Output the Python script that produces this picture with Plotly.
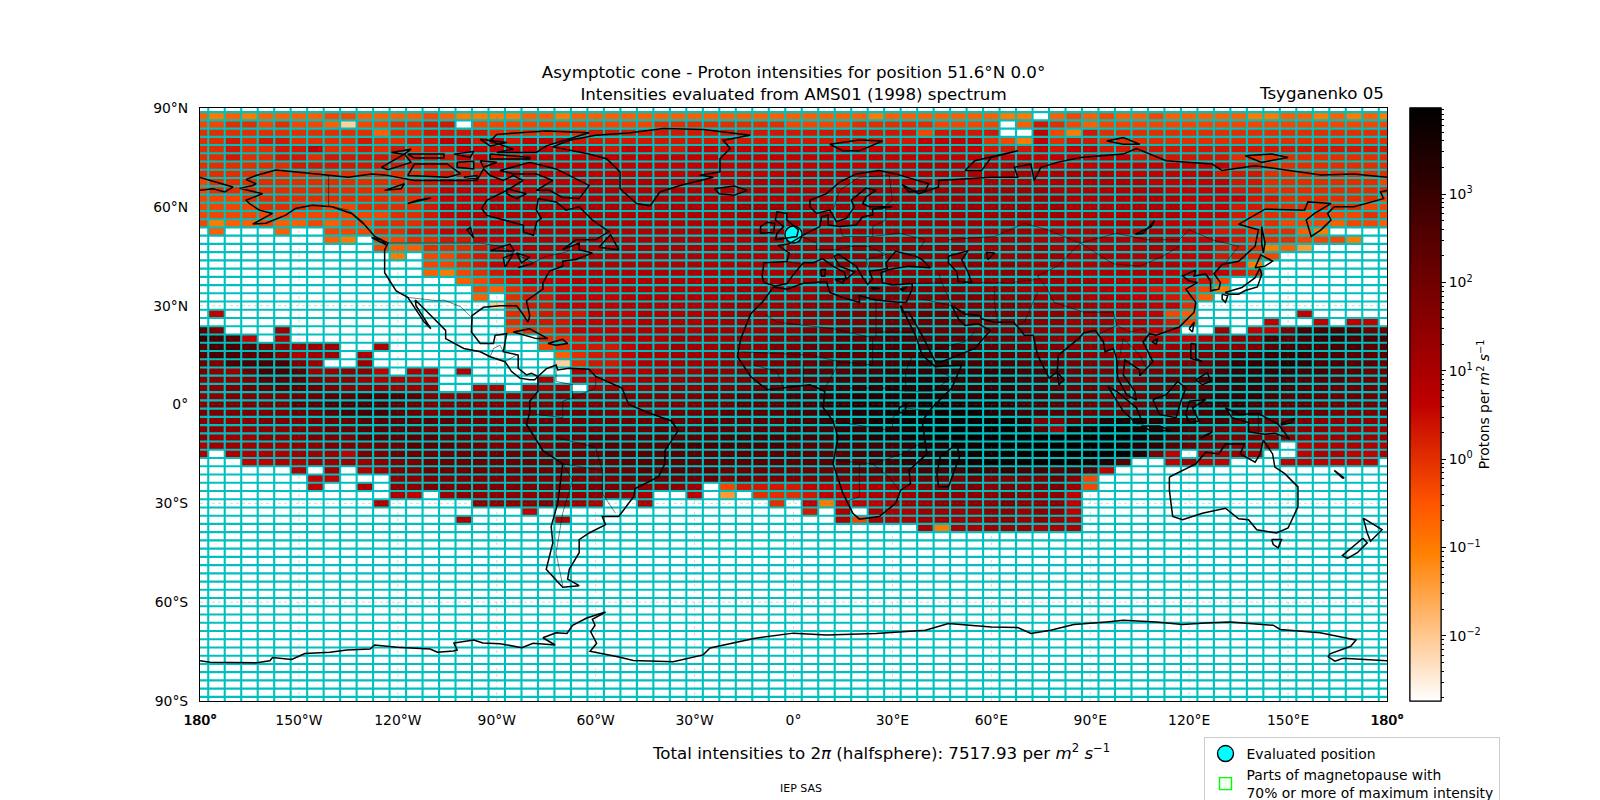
import numpy as np
import plotly.graph_objects as go

# grid of the asymptotic cone map, 5 deg x 2.5 deg cells
lons = list(range(-180, 185, 5))
lats = [90 - 2.5 * k for k in range(73)]

# one letter per cell, "." = no intensity
levels = {"a": -2.1, "z": -1.4, "b": -1.0, "c": -0.6, "d": -0.3, "e": 0.0, "f": 0.3, "g": 0.6,
          "h": 0.9, "i": 1.2, "j": 1.5, "k": 1.8, "l": 2.1, "m": 2.4, "n": 2.7, "o": 3.0,
          "p": 3.3, "q": 3.6, "r": 3.9}

cell_rows = [
    ".... .... .... .... .... ....  ............ ............  ........ ........ .........",
    "cbcb cccc ddcc ccdc bbbb ccbc  cccccccccccc cccccbcccccc  cbb.cdcd ccdccccc bbccbcbcb",
    "ddee dedd cadd eeff .ddd dddd  ddddeeeeeeee ddddeeeeeddd  d.cfedcd dddddddd ddddddddd",
    "eeee eeee eeec eeff ffee eeee  ffffffffffff ffffffffdfff  f..gdbfe eeeeeeee eeeeeeeee",
    "eefe ffee eefe effg gfgf gggf  ffffffffffff ffffffffgggg  edbgeffe eeeeeeee eeeeeeeee",
    "eefe effg eefe feff gggg gggg  gfggffgggggg gggggggggggg  fffgfggf ffffffff fffffffff",
    "eefe effe ffff ffff ggff gggg  gggggggggggg gggggggggggg  gggggggg gffffffe eeeeeeeee",
    "eeee eeff ffff ffff ffgg gggg  gggggggggggg gggggggghhhh  hhhhgggg gggggggf feeeeeeee",
    "eeee eeee eeee eeff ffgg gggh  gggggggggggg hhhhhhhhhhhh  hhhhhhhh ggggggff feeeeeeee",
    "deee eeee eeee effg gggg gggg  hhhhhhhhhhhh hhhhhhhhhhhh  hhhhhhhh hhgggggf feeeeeeed",
    "deee eeee eeee effg gggg hhhh  hhhhhhhhhhhh hhhhiiiiiiii  iiiihhhh hhhggggf feeeeeeee",
    "ddde eeee eeee eefg gghh hhhh  hhhhhhhhhhhh hhhiiiiiiiii  iiiiihhh hhhhgggg ffeeeeeed",
    "dddd eeee ddee eefg gghh hhhh  hhhhhhhhhiii iiiiiiiiiiii  iiiiihhh hhhhgggf feeeeeedd",
    "dddd dddd dddd eefg ghhh hhhh  hhhhhhhhhhii iiiiiiiiiiii  iiiiihhh hhhhgggf eeededded",
    "dbcc dccd cdde eeff gggh hhhh  hhhhhhhhhhhi iiiiiiiiiiii  iiihhhhh hhhgggfe eedddcddc",
    ".c.. .c.. ddde effg ghhh hhhh  hhhhhhhhhiii iiiiiiiiiiii  iiihhhhh hhhhggff eeecb....",
    ".... .... cb.d deef fggh hhhh  hhhhhhhhhhii iiiiiiiiiiii  iiihhhhh hhhhgggf eeedddb..",
    ".... .... ...d ccee efgg hhhh  hhhhhhhhhhhh iiijjjjjjjji  iiiihhhh hhhhggff ebcz.....",
    ".... .... .... b.dd effg gghh  hhhhhhhhhhhh iiijjjjjjjjj  jiiiihhh hhhgggff ed.......",
    ".... .... .... ..dd efgg ghhh  hhhhhhhhhhhh iijjjjjjjjjj  jjiiihhh hhhhgggf b........",
    ".... .... .... ..cb defg gghh  hhhhhhhhhhhh iijjjjjjjjjj  jjjiiihh hhhggggf e........",
    ".... .... .... .... cdef gggh  hhhhhhhhhiii iijjjjjkjkkj  jjjiiiih hhhggfd. .........",
    ".... .... .... .... .dce ffgg  gghhhhhhiiii iijjkkkkkkkj  jjiiiihh ggffedb. .........",
    ".... .... .... .... .c.e ffgg  gghhhhhhhiii iijjkkkkkkkk  kjjiiihh hggfec.. .........",
    ".... .... .... .... ..ae ffgg  gghhhhhhiiii ijjkkkkkkkkk  kkjjiiih hhgge... .........",
    ".g.. .... .... .... ...e efff  ggghhhhhiiii ijjkkkkkllll  kkjjjiii hggdc... ...g.....",
    ".... .... .... .... ...e fffg  ggghhhhhiiii jjjkkllllllk  kkkjjiii hhgfd... .g..g.gg.",
    "mk.. .i.. .... .... ...d eefg  gghhhhhiiiij jkkllmmmmlll  lkkjjiii hhgg..i. ggknnnnll",
    "onmg .h.. .... .... .... .eef  gghhhiiiijjk kllmmmnnmmmm  llkkjjii iiihghij jnmnoonnn",
    "mnnm kjii i..h .... .... .def  ffghhiiijjjk kllmmnnnnnnm  mllkkjjj iiiiijjj kmnnnnnmm",
    "mnnm mkhi i.h. .... .... ..ce  ffghhiiijjkk lllmmnnnoonn  mmllkkjj iiijjkln nooonnmmm",
    "lknn nnki ..i. .... .... ..ae  ffghhiiijjkk llmmnnnoooon  nnmmlkkj jjjkklmo ooponnmml",
    "kjil nnmi ijjg .hh. h... ...h  gghhiiijjkkl lmmmnnoooooo  oonnmlkk jjkkllno ooonnmmll",
    "jjjk mmmk jjih hhh. .... .h.h  ghhiiijjjkkl lmmnnoopppoo  oonnmlkk kklmmnoo onnmmmlll",
    "jjkl lmml kjjj iii. .hh. hhi.  hiiijjjkkkll mmnnooppppoo  oonnmllk kkllmmno onnmmllll",
    "jjkk kkll mmnn nmkj jjjj jjkk  kkkkkkkllmmm nnooppppppoo  ponnmllk kllmmnoo onmmmllll",
    "jkkk kkmm nnnn mlkk kkkk kkkk  kkkkkkkllmmm nnooppppqqpp  ponnmmll kllmnooo nmmmlllll",
    "kkkk kkll mnnn mlkk llll llll  lkkkllllmmmm nnooppqqqqqq  ponnmmll lmmmnnoo nmmllkkkk",
    "jjjj kkkl llmm mmmm llll llll  lllllllmmmmm nnoopqqrrrrr  rrpkkmmp qqpoonnm mlkkjjjjj",
    "jjjj jjkk llmm mmll llll llll  llllmmmmmmmm nnnooppqrrrr  rrqmiqqr rqponmlk kjjjjiiii",
    "jiii jjjk kkmm mmml lkkk kkll  mmmmmmmmnnnn nnnooppqqrrr  rrrrrrrr rqpnmlkk kjjiiiiii",
    "hiii iijj kkkl lmmm llkk kkll  mmmmmnnnnnnn mmmnnnnoppqq  rrrrrrrr qpomlkkj ii.ghhhhh",
    "h.hh hhii igkk llll llll llll  lmmmmmmmmmmm mmmmnnnooppq  qrrrrrrr rpkg.hhi h..ghhggh",
    "...g ghhi iiij kkll llll llll  llmmmmmmmmmm mmmmmnnoopqq  rrrrrrqp m..gigg. ..gggggg.",
    ".... ..h. i.hi kkll llll llll  kllmmmmmllll llllmmmmnnno  nonnmnmg ........ .........",
    ".... ...g g... jjkk kkkk kkkk  kkllllllklkk kkkkkkkkllkl  kkkkljd. ........ .........",
    ".... ...g ..h. jjkk kkkk kkkk  kkkjjji.dfff fgghhhiijkkk  jkjkkid. ........ .........",
    ".... .... .... hg.i jjjj jjjj  jjih..g.z.ee efggghhijjjj  jkjjjg.. ........ .........",
    ".... .... ...h .... .jjj jkji  h..h.......e .gbggghiijjj  jkjjjg.. ........ .........",
    ".... .... .... .... .... g...  ............ .f.h.hhhiiii  jjijjg.. ........ .........",
    ".... .... .... .... h... ..h.  ............ ...hdhhhiiii  jjijih.. ........ .........",
    ".... .... .... .... .... ....  ............ ........hbhh  iiihhh.. ........ .........",
] + ["." * 73] * 21

# coastlines, (lon, lat)
north_america = [(-168, 65.6), (-164, 66.5), (-163, 67), (-166, 68.3), (-163, 69.5), (-157, 71.2), (-150, 70.5),
                 (-141, 69.6), (-135, 69), (-128, 70), (-124, 69.7), (-115, 68), (-108, 68), (-100, 68), (-96, 68),
                 (-94, 71.5), (-92, 69.5), (-88, 68), (-85, 69.5), (-82, 68), (-87, 65), (-93, 62), (-94.6, 59.5),
                 (-93, 57.4), (-85, 55.3), (-81.9, 54.4), (-81.9, 52.4), (-78.9, 51.4), (-77.9, 55.4), (-76.5, 56.5), (-78, 59),
                 (-77.4, 62.5), (-72, 61.5), (-69, 59), (-65, 60), (-61, 56), (-56, 52.5), (-60, 50), (-66, 50),
                 (-70, 47), (-65, 49), (-65, 47), (-61, 46), (-66, 44), (-70, 43.5), (-70, 42), (-74, 40.5),
                 (-76, 37), (-76, 35), (-81, 31.5), (-80, 27), (-80.5, 25), (-82.5, 28), (-84, 30), (-89, 30),
                 (-94, 29.5), (-97.5, 27), (-97.7, 22), (-95, 18.5), (-91, 18.5), (-90.5, 21), (-87, 21.5), (-88, 16),
                 (-83.5, 15), (-83.5, 11), (-81, 9), (-79.5, 9.5), (-77.5, 8.5), (-78.5, 7.5), (-80, 7.5), (-83, 8),
                 (-85.5, 10), (-87.5, 13), (-92, 14.5), (-95, 16), (-100, 17), (-105.5, 20), (-105.5, 22.5),
                 (-109, 26), (-112.5, 29.5), (-114.7, 31.7), (-114.5, 30), (-110, 23), (-112, 25), (-115, 29.5),
                 (-117, 32.5), (-120.5, 34.5), (-124, 40), (-124, 47), (-123, 49), (-127, 51), (-130, 54.5),
                 (-134, 58), (-140, 60), (-146, 60.5), (-151, 59.5), (-154, 57.5), (-160, 55), (-164, 54.8),
                 (-158, 58), (-162, 59), (-165, 61), (-166, 62), (-161, 64), (-168, 65.6)]
baffin = [(-80, 73.5), (-72, 71.5), (-67, 69), (-62, 66.5), (-65, 62.5), (-70, 62.8), (-74, 65), (-78, 65), (-73, 68),
          (-78, 70), (-85, 70), (-89, 71), (-80, 73.5)]
victoria = [(-117, 69.5), (-105, 69), (-101, 70), (-105, 73), (-115, 73), (-117, 69.5)]
banks = [(-125, 72), (-118, 76), (-116, 73.5), (-123, 71.3), (-125, 72)]
ellesmere = [(-90, 76.5), (-78, 76.5), (-75, 78.5), (-65, 81.5), (-62, 82.5), (-75, 83), (-90, 82), (-92, 80),
             (-85, 77.5), (-90, 76.5)]
devon = [(-92, 76), (-80, 75), (-80, 74.5), (-92, 74.5), (-92, 76)]
heiberg = [(-95, 80.5), (-87, 79.5), (-92, 78.5), (-95, 80.5)]
melville = [(-117, 76), (-106, 76), (-106, 74.8), (-115, 74.8), (-117, 76)]
prince_patrick = [(-122, 76.5), (-116, 77.5), (-118, 76), (-122, 76.5)]
bathurst = [(-103, 76), (-97, 76.8), (-98, 75), (-103, 76)]
somerset = [(-95, 74), (-90, 73.5), (-94, 72), (-95, 74)]
prince_of_wales = [(-102, 73.5), (-97, 73.8), (-97, 71.5), (-102, 72), (-102, 73.5)]
king_william = [(-100, 69), (-96, 69.5), (-96, 68.5), (-100, 69)]
southampton = [(-87, 65.5), (-81, 64), (-84, 62.5), (-87, 64), (-87, 65.5)]
newfoundland = [(-59, 47.7), (-55.5, 51.5), (-53, 47), (-59, 47.7)]
vancouver = [(-128, 50.7), (-123.5, 48.5), (-125, 50), (-128, 50.7)]
cuba = [(-85, 22), (-80, 23), (-74.5, 20), (-78, 20), (-85, 22)]
hispaniola = [(-74.5, 18.5), (-70, 19.8), (-68.5, 18.5), (-72, 18), (-74.5, 18.5)]
superior = [(-92, 46.7), (-86, 48.7), (-84.7, 46.6), (-92, 46.7)]
michigan = [(-87.5, 41.7), (-85, 45.7), (-88, 44.5), (-87.5, 41.7)]
huron = [(-84, 46), (-80, 44.7), (-82.5, 43), (-84, 46)]
erie = [(-83.5, 41.6), (-79, 42.8), (-79.5, 42.9), (-83.5, 41.6)]
great_slave = [(-117, 61), (-110, 62.7), (-114, 62), (-117, 61)]
great_bear = [(-124, 65), (-118, 67), (-119, 65.5), (-124, 65)]
winnipeg = [(-97, 50.5), (-98, 53.8), (-99, 53), (-97, 50.5)]
greenland = [(-73, 78.2), (-68, 80.2), (-60, 81.7), (-50, 82.4), (-39.5, 83.8), (-27.3, 83.5), (-13.2, 81.7), (-21.3, 80.2),
             (-19.2, 77.7), (-22.3, 74.6), (-22.3, 70.6), (-28.4, 69.6), (-24.3, 69), (-34.4, 66.5), (-40.5, 64.5),
             (-43.5, 60.3), (-47.6, 61), (-52.6, 65.5), (-52.6, 70.6), (-56.7, 74.6), (-62.7, 76.2), (-70.8, 77.7),
             (-73, 78.2)]
iceland = [(-24, 65.5), (-18, 66.3), (-14, 65), (-18, 63.5), (-22.5, 64), (-24, 65.5)]
svalbard = [(11, 79), (20, 80.3), (27, 80), (20, 77), (15, 77), (11, 79)]
britain = [(-5.5, 50), (1, 51), (1.5, 53), (-2, 56), (-2, 58), (-5, 58.5), (-5.5, 56), (-3, 54), (-5, 52), (-5.5, 50)]
ireland = [(-10, 52), (-6, 52.2), (-5.7, 55), (-8, 55.3), (-10, 54), (-10, 52)]
novaya_zemlya = [(52, 71), (55, 74), (68, 77), (60, 75), (57, 71), (52, 71)]
severnaya = [(95, 80), (100, 79), (105, 79), (100, 81), (95, 80)]
new_siberian = [(137, 75.5), (145, 76), (150, 75), (142, 73.5), (137, 75.5)]
eurasia_north = [(-9, 37), (-9.5, 39), (-9, 43), (-2, 43.4), (-1.3, 46), (-4.7, 48.3), (-1.5, 48.7), (1.5, 50.5),
                 (4, 52), (8, 54), (8.5, 57), (10.5, 57.5), (10.5, 54.5), (14, 54), (19, 54.5), (21, 57), (24, 57.5),
                 (24, 59.3), (30, 60), (23, 60), (21, 61), (22, 63), (25, 65), (22, 65.7), (17.5, 62), (18.5, 60),
                 (16, 56.5), (13, 55.5), (11, 59), (7, 58), (5, 60), (5, 62), (10, 64), (14, 67.5), (19, 70), (26, 71),
                 (31, 70), (41, 67), (40, 65), (35, 64.5), (33, 66.7), (38, 64), (44, 66), (44, 68), (53, 68.5),
                 (60, 69), (68, 69), (67, 72), (72, 73), (73, 68), (75, 72), (80, 73.5), (87, 75), (100, 76),
                 (104, 77.7), (113, 74), (127, 73), (130, 71), (140, 72.5), (150, 71), (160, 69.7), (170, 70), (180, 69)]
chukotka = [(-180, 68.9), (-175, 67.5), (-170, 66), (-172.5, 64.5), (-176, 65.5), (-180, 65)]
eurasia_pacific = [(180, 65), (178, 64.5), (179, 62.5), (170, 60), (164, 60), (162, 58), (163, 56), (160, 53),
                   (157, 51), (155.5, 56), (158, 58), (163, 61), (156, 61.5), (155, 59), (143, 59.3), (135, 54.7),
                   (141, 53), (140, 48), (135, 43.5), (130, 42.5), (127.5, 39.7), (129.5, 37), (129, 35), (126.5, 34.5),
                   (126.5, 37.5), (125, 39.7), (121.5, 39), (122, 40.8), (118, 39), (120, 37.5), (122.5, 37), (119, 35),
                   (122, 31), (121.5, 28), (117, 23.5), (110, 21), (108, 21.5), (106, 19), (109, 13), (105, 8.7),
                   (105, 10.5), (100.5, 13.5), (100, 9), (103.5, 4), (104, 1.3), (101, 3), (98.3, 8), (98, 14), (97, 17),
                   (94.5, 16), (94, 19), (91.5, 22.5), (88, 21.7), (86.5, 20), (80.3, 15), (80, 10), (77.5, 8), (74, 15),
                   (72.7, 21), (70, 21), (69, 22.5), (66.7, 25), (61, 25), (57, 26), (56.5, 27), (52, 27.5), (48, 30),
                   (50, 26), (52, 24), (56, 24.5), (59.7, 22.5), (55, 17), (45, 13), (43, 13), (39, 21), (35, 28), (34.3, 28),
                   (33, 28), (32.5, 30)]
eurasia_med = [(34.2, 31), (36, 35), (36, 36.7), (30, 36.3), (27, 37), (26.5, 40), (29, 41), (35, 42), (41.5, 41.5),
               (39, 44), (37, 45), (35, 45.5), (33, 46), (31, 46.5), (28, 43), (28.5, 41.3), (26, 40.8), (23, 40.5),
               (24, 38), (22.5, 36.5), (21, 38.5), (19.5, 41), (19, 42), (13.7, 45.5), (12.3, 45), (14, 42),
               (18.5, 40.2), (16, 38), (15.5, 40), (12, 42), (8.8, 44.3), (6, 43), (3, 43), (0, 39.5), (-2, 36.7),
               (-5.5, 36), (-9, 37)]
sardinia = [(8.3, 41), (9.7, 41), (9.5, 39), (8.5, 39), (8.3, 41)]
sicily = [(12.5, 38), (15.5, 38.2), (15, 36.8), (12.5, 38)]
crete = [(23.5, 35.5), (26.2, 35.2), (24, 35), (23.5, 35.5)]
cyprus = [(32.3, 35), (34.5, 35.6), (33, 34.6), (32.3, 35)]
caspian = [(47, 45), (53, 46.7), (51, 44), (53, 40), (54, 37), (50, 37.3), (49.5, 40.3), (47, 43), (47, 45)]
aral = [(59, 44), (61, 46), (58.5, 46.2), (59, 44)]
baikal = [(103.7, 51.7), (106, 52), (109.5, 55.8), (108.5, 54), (103.7, 51.7)]
honshu = [(130.9, 34), (136, 35.5), (140, 38.5), (141.4, 41.3), (142, 39.5), (140.7, 35.7), (137, 34.6), (135, 33.5),
          (132, 33.5), (130.9, 34)]
hokkaido = [(140, 41.5), (141.7, 45.4), (145.3, 43.5), (143, 42), (140, 41.5)]
kyushu = [(130, 33.5), (131.7, 33), (131, 31), (130, 32), (130, 33.5)]
sakhalin = [(142, 54), (143, 49), (142.5, 46), (142, 49), (142, 54)]
taiwan = [(120, 23), (121.5, 25), (121, 22), (120, 23)]
hainan = [(108.7, 19), (110.5, 20), (110, 18.3), (108.7, 19)]
luzon = [(120.5, 18.5), (122, 18.3), (122, 14), (124, 13), (120.5, 14), (120.5, 18.5)]
mindanao = [(122, 7.5), (125.5, 9.7), (126.5, 7), (124, 6), (122, 7.5)]
borneo = [(109, 1.5), (113, 3), (116.5, 7), (119, 5), (117.5, 1), (116, -4), (111, -3), (109, 1.5)]
sumatra = [(95.3, 5.5), (98, 4), (104, -1), (106, -5.8), (104, -5.8), (100, -2), (95.3, 5.5)]
java = [(105.5, -6.5), (111, -6.5), (114.5, -8), (108, -7.8), (105.5, -6.5)]
sulawesi = [(120, 1), (125, 1.5), (121, -1), (123, -5), (120, -5.5), (119, -3), (120, 1)]
timor = [(123.5, -10.3), (127, -8.4), (125, -9.2), (123.5, -10.3)]
new_guinea = [(131, -1), (135, -3), (141, -2.7), (147, -6), (150.5, -10.5), (146, -8.7), (143, -9), (138, -8.3),
              (138, -5.5), (133, -4), (131, -1)]
new_britain = [(148, -5.7), (152, -4.2), (151, -5.5), (148, -6.2), (148, -5.7)]
sri_lanka = [(80, 9.7), (82, 7.5), (80.5, 6), (80, 9.7)]
madagascar = [(49.3, -12), (50.5, -15.5), (47, -25), (44, -25), (43.5, -21), (44.5, -16), (49.3, -12)]
africa = [(32.5, 30), (35.5, 24), (37, 21), (39, 15), (43, 11.5), (51, 12), (48, 5), (42, -1), (39, -5), (40.5, -15),
          (35, -20), (35.5, -24), (32.5, -26), (31, -30), (26, -34), (20, -34.8), (18, -33), (15, -27), (12, -18),
          (13.5, -10), (12, -5), (9, -1), (9.5, 4), (5, 6), (0, 5.5), (-4, 5), (-8, 4.5), (-13, 8.5), (-17, 14.5),
          (-16, 20), (-13, 27.5), (-9.5, 31), (-6, 35.7), (-2, 35), (3, 36.8), (10, 37.3), (11, 34), (15, 32.5),
          (20, 31), (20, 33), (25, 31.7), (32, 31), (34.2, 31)]
victoria_lake = [(32, -1), (34, 0), (34, -2.5), (32, -2.5), (32, -1)]
south_america = [(-77.5, 8.5), (-75, 10.8), (-72, 12), (-71.5, 10.5), (-68, 11), (-62, 10.7), (-60, 8.5), (-52, 5),
                 (-50, 0), (-44, -2.5), (-37, -5), (-35, -8), (-39, -14), (-39, -18), (-41, -22), (-48, -25.5),
                 (-48.5, -28), (-53, -34), (-58, -34), (-57, -36.5), (-62, -39), (-65, -41), (-65, -45), (-68, -50),
                 (-68.5, -53), (-65, -55), (-70, -55.5), (-75, -50), (-73, -42), (-73.5, -37), (-71.5, -30), (-70, -18),
                 (-76, -14), (-81, -6), (-80, -2.5), (-80, 1), (-77.5, 4), (-77.5, 8.5)]
australia = [(114, -22), (114, -26), (115, -34), (118, -35), (124, -33), (131, -31.5), (135, -34.7), (138, -35),
             (140.5, -38), (146.5, -39), (150, -37.5), (153, -31), (153, -25), (149, -21), (146, -19), (145.3, -15),
             (142.5, -10.8), (141.5, -15), (140, -17.5), (135.5, -15), (136.7, -12), (131, -12), (129, -15),
             (125, -14.5), (122, -18), (114, -22)]
tasmania = [(145, -41), (148, -41), (147, -43.5), (145.5, -42.5), (145, -41)]
nz_north = [(172.8, -34.5), (178.5, -38), (175, -41.5), (174, -39), (172.8, -34.5)]
nz_south = [(172.7, -40.6), (174, -42), (171, -45), (168, -46.7), (166.5, -45.8), (172.7, -40.6)]
new_caledonia = [(164, -20), (167, -22.3), (166.5, -22.3), (164, -20)]
antarctica = [(-180, -77.8), (-177, -78.2), (-162.8, -78.4), (-158.8, -77.8), (-158, -76.8), (-152.2, -77.4), (-148.2, -75.6),
              (-140.6, -75.2), (-135.5, -74.5), (-128.4, -74.2), (-127, -73), (-120.3, -73.7), (-110.2, -74.2), (-108, -75.2),
              (-103.2, -74.8), (-102, -74.5), (-103, -72.4), (-97, -71.5), (-94.2, -72.4), (-89, -72.6), (-82.4, -73.8), (-79, -72.5),
              (-72.3, -73), (-76, -70.8), (-72, -69.3), (-68.7, -69.5), (-67, -67), (-62.7, -64.8), (-57, -63), (-61, -65.2),
              (-60.2, -67), (-61.5, -69), (-59.7, -72.5), (-61.7, -74.9), (-52.6, -76.7), (-48.6, -77.7), (-36.5, -78.1),
              (-27.4, -76), (-25.3, -73.9), (-19, -72.5), (-12, -71), (0, -69.4), (10, -70), (25, -69.5), (33, -69), (40, -68.5),
              (47, -66.5), (55, -67), (60, -67.5), (68, -67.7), (72, -69.5), (78, -68.5), (85, -66.8), (95, -66), (100, -65.5),
              (110, -66), (118, -66.8), (125, -66.3), (132.4, -66), (145.5, -67), (147.6, -68.3), (159.7, -69.3), (166.7, -70.7),
              (170.6, -71.5), (169, -73.4), (162.7, -75.7), (162.2, -76.6), (164.2, -77.9), (166.7, -77), (180, -77.8)]

coasts = [north_america, baffin, victoria, banks, ellesmere, devon, heiberg, melville, prince_patrick, bathurst, somerset,
          prince_of_wales, king_william, southampton, newfoundland, vancouver, cuba, hispaniola, superior, michigan, huron,
          erie, great_slave, great_bear, winnipeg, greenland, iceland, svalbard, britain, ireland, novaya_zemlya, severnaya,
          new_siberian, eurasia_north, chukotka, eurasia_pacific, eurasia_med, sardinia, sicily, crete, cyprus, caspian, aral,
          baikal, honshu, hokkaido, kyushu, sakhalin, taiwan, hainan, luzon, mindanao, borneo, sumatra, java, sulawesi, timor,
          new_guinea, new_britain, sri_lanka, madagascar, africa, victoria_lake, south_america, australia, tasmania, nz_north,
          nz_south, new_caledonia, antarctica]

# country borders, thin lines
borders = [
    [(-123, 49), (-95, 49), (-89, 48), (-83, 45), (-79, 43), (-75, 45), (-70, 46), (-67, 47)],
    [(-141, 69.6), (-141, 60.3), (-135, 59), (-130, 55)],
    [(-117, 32.5), (-108, 31.5), (-106, 31.7), (-101, 29.7), (-97.2, 26)],
    [(-92, 14.5), (-91, 17), (-89, 18), (-88, 16)],
    [(-87.5, 13), (-84, 15)],
    [(-2, 43.4), (3, 42.5)],
    [(2.5, 51), (7, 49), (7, 47), (13, 47), (17, 48), (23, 48), (28, 45.5), (22, 44), (23, 41)],
    [(14, 54), (15, 51), (24, 51), (24, 54), (28, 56), (28, 60)],
    [(12, 59), (14, 65), (20, 69), (29, 69.5), (30, 62), (28, 60.5)],
    [(24, 51), (32, 52), (40, 50), (38, 47)],
    [(47, 50), (61, 51), (70, 55), (77, 53), (87, 49), (98, 52), (107, 50), (117, 50), (120, 53), (127, 50), (135, 48),
     (131, 43)],
    [(87, 49), (80, 42), (74, 39), (77, 35), (79, 31), (88, 28), (97, 28), (98, 24), (102, 22), (106, 23), (108, 21.5)],
    [(87, 49), (97, 42.7), (105, 42), (112, 45), (117, 48)],
    [(74, 34), (70, 25), (68, 24)],
    [(48, 30), (45, 37), (44, 40)],
    [(54, 37), (60, 37), (66, 37), (74, 38)],
    [(61, 36), (61, 30), (62, 25)],
    [(36, 36.7), (42, 37), (45, 37)],
    [(39, 32), (48, 30)],
    [(43, 17), (52, 19), (55, 22)],
    [(92, 21), (98, 24)],
    [(98, 10), (100, 20), (105, 15), (107, 11)],
    [(141, -2.7), (141, -9)],
    [(-8.7, 27.5), (-5, 25), (12, 23), (25, 20), (25, 31.5)],
    [(25, 22), (36, 22)],
    [(-16, 16), (5, 15), (14, 13), (24, 12), (24, 20)],
    [(36, 14.5), (34, 10), (34, 4), (42, 4), (48, 8), (43, 11)],
    [(9, 4), (14, 13)],
    [(14, 5), (27, 5), (34, 4)],
    [(12, -5), (30, -8), (30, -4), (34, -1), (41, -2)],
    [(13, -17), (24, -18), (33, -15), (40, -11)],
    [(20, -18), (20, -28), (17, -29)],
    [(24, -18), (29, -22), (32, -26)],
    [(-12, 12), (-5, 10), (-3, 5)],
    [(3, 6), (3, 12)],
    [(-70, -18), (-58, -20), (-58, -27), (-54, -33)],
    [(-72, -10), (-60, -13), (-58, -20)],
    [(-70, -55), (-72, -45), (-70, -33), (-67, -23), (-70, -18)],
    [(-78, -3), (-70, -4), (-70, 1), (-67, 2), (-60, 5), (-60, 8.5)],
    [(-72, 12), (-72, 7), (-67, 6), (-67, 2)],
]

lon_ticks = [-180, -150, -120, -90, -60, -30, 0, 30, 60, 90, 120, 150, 180]
lon_labels = ["180°", "150°W", "120°W", "90°W", "60°W", "30°W", "0°", "30°E", "60°E", "90°E", "120°E", "150°E", "180°"]
lat_ticks = [-90, -60, -30, 0, 30, 60, 90]
lat_labels = ["90°S", "60°S", "30°S", "0°", "30°N", "60°N", "90°N"]
bar_ticks = [-2, -1, 0, 1, 2, 3]
bar_labels = ["10<sup>−2</sup>", "10<sup>−1</sup>", "10<sup>0</sup>", "10<sup>1</sup>", "10<sup>2</sup>", "10<sup>3</sup>"]
z_min, z_max = -2.737, 3.975

station = (0.0, 51.6)
FONT = "DejaVu Sans"
# the page body has an 8 px margin, so the figure is 8 px smaller than the window
BODY = 8
W, H = 1600 - BODY, 800 - BODY

# gist_heat reversed
heat_r = [[0, "rgb(255,255,255)"], [0.25, "rgb(255,128,0)"], [1 / 3, "rgb(255,85,0)"], [0.5, "rgb(191,0,0)"],
          [1, "rgb(0,0,0)"]]

z = []
for row in cell_rows:
    row = row.replace(" ", "").ljust(73, ".")[:73]
    z.append([levels.get(c, np.nan) for c in row])

minor_ticks = []
for decade in range(-3, 4):
    for m in range(2, 10):
        v = decade + np.log10(m)
        if z_min <= v <= z_max:
            minor_ticks.append(v)


def join_lines(lines):
    xs, ys = [], []
    for line in lines:
        xs += [p[0] for p in line] + [None]
        ys += [p[1] for p in line] + [None]
    return xs, ys


fig = go.Figure()

# colorbar with the minor ticks, a second one on top carries the labels
bar_common = dict(thickness=30.7, thicknessmode="pixels", len=1, lenmode="fraction",
                  x=(1410 - 200) / 1187, xanchor="left", y=0.5, yanchor="middle", xpad=0, ypad=0,
                  outlinecolor="black", outlinewidth=1.1, ticks="outside", tickcolor="black", tickwidth=1.1)
fig.add_trace(go.Heatmap(x=lons, y=lats, z=z, zmin=z_min, zmax=z_max, colorscale=heat_r, hoverinfo="skip", name="cells",
                         colorbar=dict(**bar_common, tickvals=minor_ticks, showticklabels=False, ticklen=2.8)))
fig.add_trace(go.Heatmap(x=lons, y=lats, z=z, zmin=z_min, zmax=z_max, colorscale=heat_r, hoverinfo="skip", name="cells",
                         colorbar=dict(**bar_common, tickvals=bar_ticks, ticktext=bar_labels, ticklen=4.9,
                                       tickfont=dict(family=FONT, size=13.9, color="black"),
                                       title=dict(text="Protons per <i>m</i><sup>2</sup> <i>s</i><sup>−1</sup>", side="right",
                                                  font=dict(family=FONT, size=13.9, color="black")))))

# faint map graticule
grat = [[(t, -90), (t, 90)] for t in lon_ticks[1:-1]] + [[(-180, t), (180, t)] for t in lat_ticks[1:-1]]
gx, gy = join_lines(grat)
fig.add_trace(go.Scatter(x=gx, y=gy, mode="lines", line=dict(color="rgba(100,100,100,0.45)", width=0.6, dash="dot"),
                         hoverinfo="skip", showlegend=False))

# cyan cell borders
lon_edges = [v + 2.5 for v in lons[:-1]]
lat_edges = [v - 1.25 for v in lats[:-1]]
edges = [[(v, -90), (v, 90)] for v in lon_edges] + [[(-180, v), (180, v)] for v in lat_edges]
ex, ey = join_lines(edges)
fig.add_trace(go.Scatter(x=ex, y=ey, mode="lines", line=dict(color="#00bfbf", width=2.1), hoverinfo="skip", showlegend=False))

fig.add_trace(go.Scatter(x=[station[0]], y=[station[1]], mode="markers", name="Evaluated position",
                         marker=dict(color="cyan", size=17, line=dict(color="black", width=1.4))))

bx, by = join_lines(borders)
fig.add_trace(go.Scatter(x=bx, y=by, mode="lines", line=dict(color="black", width=0.5), hoverinfo="skip", showlegend=False))
cx, cy = join_lines(coasts)
fig.add_trace(go.Scatter(x=cx, y=cy, mode="lines", line=dict(color="black", width=1.5), hoverinfo="skip", showlegend=False))

fig.update_layout(
    width=W, height=H, autosize=False,
    paper_bgcolor="white", plot_bgcolor="white",
    font=dict(family=FONT, size=13.9, color="black"),
    margin=dict(l=200 - BODY, r=213, t=108 - BODY, b=99, pad=0, autoexpand=False),
    title=dict(text="Asymptotic cone - Proton intensities for position 51.6°N 0.0°<br>"
                    "Intensities evaluated from AMS01 (1998) spectrum",
               font=dict(family=FONT, size=16.67, color="black"), x=(793.5 - BODY) / W, xanchor="center",
               y=1 - (78.4 - BODY) / H, yanchor="bottom"),
    xaxis=dict(range=[-180, 180], tickvals=lon_ticks, ticktext=lon_labels, showgrid=False, zeroline=False, showline=True,
               mirror=True, linecolor="black", linewidth=1.1, ticks="outside", ticklen=6, tickcolor="rgba(0,0,0,0)"),
    yaxis=dict(range=[-90, 90], tickvals=lat_ticks, ticktext=lat_labels, showgrid=False, zeroline=False, showline=True,
               mirror=True, linecolor="black", linewidth=1.1, ticks="outside", ticklen=8, tickcolor="rgba(0,0,0,0)"),
    legend=dict(x=(1203.5 - BODY) / W, y=1 - (737 - BODY) / H, xref="container", yref="container", xanchor="left",
                yanchor="top", bgcolor="rgba(255,255,255,0.8)", bordercolor="#cccccc", borderwidth=1,
                font=dict(family=FONT, size=13.9, color="black"), tracegroupgap=0, itemwidth=32),
    annotations=[
        dict(text="Tsyganenko 05", xref="paper", yref="paper", x=1, y=1 + 14 / 593, xanchor="right", yanchor="middle",
             showarrow=False, xshift=-1, font=dict(family=FONT, size=16.67, color="black")),
        dict(text="Total intensities to 2<i>π</i> (halfsphere): 7517.93 per <i>m</i><sup>2</sup> <i>s</i><sup>−1</sup>",
             xref="paper", yref="paper", x=(881 - 200) / 1187, y=(701 - 752) / 593, xanchor="center", yanchor="middle",
             showarrow=False, font=dict(family=FONT, size=16.67, color="black")),
        dict(text="IEP SAS", xref="paper", yref="paper", x=(801 - 200) / 1187, y=(701 - 788) / 593, xanchor="center",
             yanchor="middle", showarrow=False, font=dict(family=FONT, size=11, color="black")),
        # both ends of the axis carry the 180 label twice, over the tick text
        dict(text="180°", xref="x", yref="paper", x=-180, y=(701 - 719.5) / 593, xanchor="center", yanchor="middle",
             showarrow=False, font=dict(family=FONT, size=13.9, color="black")),
        dict(text="180°", xref="x", yref="paper", x=180, y=(701 - 719.5) / 593, xanchor="center", yanchor="middle",
             showarrow=False, font=dict(family=FONT, size=13.9, color="black")),
    ],
)

# only the legend shows this one, it lies outside the map range
fig.add_shape(type="rect", x0=200, x1=210, y0=100, y1=110, showlegend=True, layer="below",
              name="Parts of magnetopause with<br>70% or more of maximum intensity",
              line=dict(color="lime", width=1.4), fillcolor="rgba(0,255,0,0.05)")

fig.write_html("out.html")
